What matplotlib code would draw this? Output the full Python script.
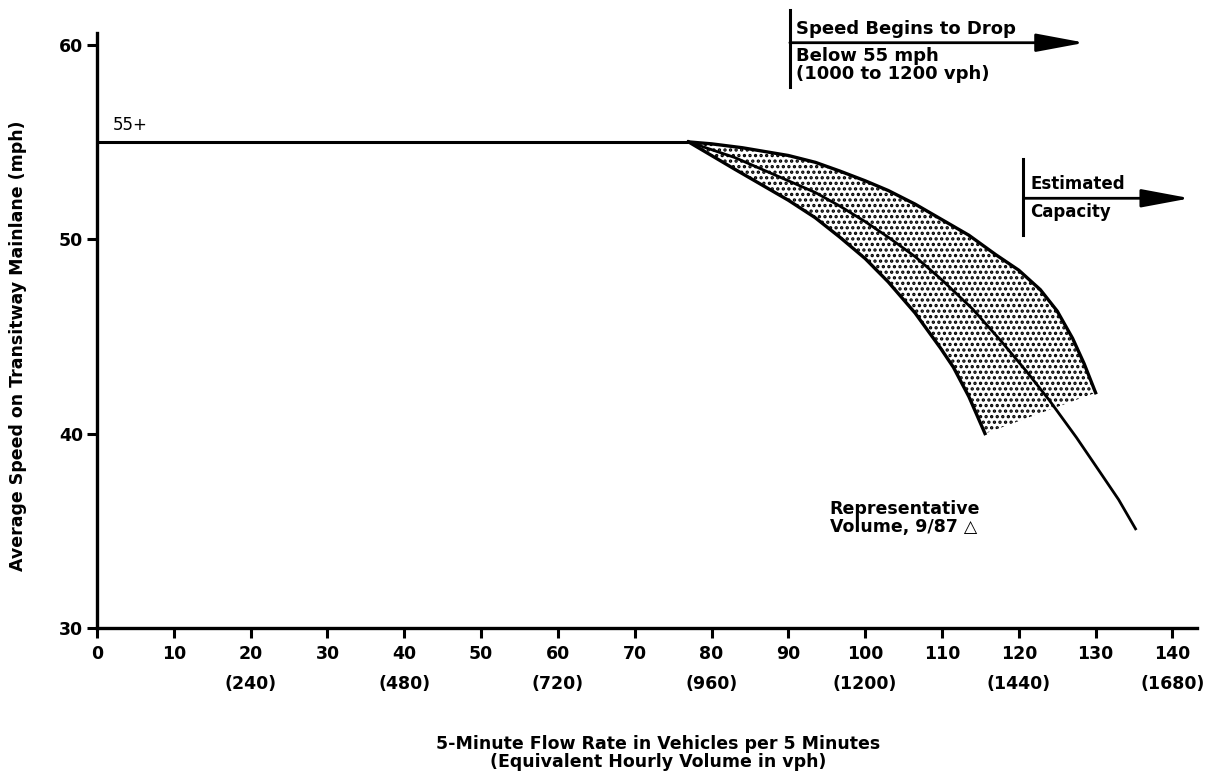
import numpy as np
import matplotlib
matplotlib.use('Agg')
import matplotlib.pyplot as plt

#values
flat_x = [0, 77]
flat_y = [55, 55]
upper_x = [77, 80, 84, 87, 90, 93.5, 96.7, 100, 103, 106.5, 110, 113.5, 117, 120,
           122.8, 125, 127, 128.5, 130]
upper_y = [55, 54.9, 54.7, 54.5, 54.3, 53.95, 53.5, 53.0, 52.5, 51.8, 51.0, 50.2,
           49.2, 48.4, 47.4, 46.3, 44.9, 43.6, 42.1]
mid_x = [77, 80, 83, 86.5, 90, 93.5, 96.7, 100, 103, 106.5, 110, 114, 117.6, 121,
         124, 127.5, 130.6, 133, 135.2]
mid_y = [55, 54.6, 54.2, 53.6, 53.0, 52.4, 51.7, 50.9, 50.1, 49.1, 47.9, 46.4, 44.8,
         43.2, 41.7, 39.8, 38.0, 36.6, 35.1]
lower_x = [77, 80, 83, 86.5, 90, 93.5, 96.7, 100, 103, 106.5, 109.8, 111.5, 113.5, 115.6]
lower_y = [55, 54.3, 53.6, 52.8, 52.0, 51.1, 50.1, 49.0, 47.8, 46.2, 44.4, 43.4, 41.9, 40.0]

xticks = [0, 10, 20, 30, 40, 50, 60, 70, 80, 90, 100, 110, 120, 130, 140]
hourly = {20: '(240)', 40: '(480)', 60: '(720)', 80: '(960)', 100: '(1200)',
          120: '(1440)', 140: '(1680)'}
yticks = [30, 40, 50, 60]

plt.rcParams['hatch.linewidth'] = 1.6
fig = plt.figure(figsize=(12.09, 7.78), dpi=100)
ax = fig.add_axes([97/1209, 150/778, 1100/1209, 595/778])
ax.set_xlim(0, 143.2)
ax.set_ylim(30, 60.6)

#shaded band between upper and lower curves
band_x = upper_x + lower_x[::-1]
band_y = upper_y + lower_y[::-1]
ax.fill(band_x, band_y, facecolor='white', edgecolor='black', hatch='...', linewidth=0)

ax.plot(flat_x, flat_y, color='black', lw=2.2, solid_capstyle='butt')
ax.plot(upper_x, upper_y, color='black', lw=2.4, solid_joinstyle='round')
ax.plot(mid_x, mid_y, color='black', lw=2.0, solid_joinstyle='round')
ax.plot(lower_x, lower_y, color='black', lw=2.4, solid_joinstyle='round')

for s in ['top', 'right']:
    ax.spines[s].set_visible(False)
for s in ['left', 'bottom']:
    ax.spines[s].set_linewidth(2.4)

ax.set_yticks(yticks)
ax.set_yticklabels([str(v) for v in yticks], fontsize=12.5, fontweight='bold')
labels = []
for v in xticks:
    if v in hourly:
        labels.append(str(v) + '\n' + hourly[v])
    else:
        labels.append(str(v) + '\n')
ax.set_xticks(xticks)
ax.set_xticklabels(labels, fontsize=12.5, fontweight='bold', linespacing=1.9, va='top')
ax.tick_params(axis='both', direction='out', length=7, width=2.2, pad=5)
ax.tick_params(axis='y', pad=3)

ax.set_ylabel('Average Speed on Transitway Mainlane (mph)', fontsize=12.5,
              fontweight='bold')
ax.yaxis.set_label_coords(-0.0636, 0.475)
fig.text(658/1209, 1 - 753/778, '5-Minute Flow Rate in Vehicles per 5 Minutes\n(Equivalent Hourly Volume in vph)',
         ha='center', va='center', fontsize=12.5, fontweight='bold', linespacing=1.0)

ax.text(2, 55.4, '55+', fontsize=12, va='bottom', ha='left')

#speed drop annotation
aprops = dict(arrowstyle='-|>,head_length=1.5,head_width=0.28', color='black',
              lw=2, mutation_scale=20, shrinkA=0, shrinkB=0)
ax.plot([90.2, 90.2], [57.8, 61.8], color='black', lw=2.2, clip_on=False)
ax.annotate('', xy=(128.6, 60.1), xytext=(90.2, 60.1), arrowprops=aprops,
            annotation_clip=False)
ax.text(91, 60.35, 'Speed Begins to Drop', fontsize=13, fontweight='bold',
        va='bottom', ha='left')
ax.text(91, 59.9, 'Below 55 mph\n(1000 to 1200 vph)', fontsize=13,
        fontweight='bold', va='top', ha='left', linespacing=1.0)

#capacity annotation
ax.plot([120.6, 120.6], [50.2, 54.1], color='black', lw=2.2, clip_on=False)
ax.annotate('', xy=(142.3, 52.1), xytext=(120.6, 52.1), arrowprops=aprops,
            annotation_clip=False)
ax.text(121.5, 52.35, 'Estimated', fontsize=12, fontweight='bold', va='bottom', ha='left')
ax.text(121.5, 51.85, 'Capacity', fontsize=12, fontweight='bold', va='top', ha='left')

ax.text(95.4, 36.6, 'Representative\nVolume, 9/87 \u25b3', fontsize=12.5,
        fontweight='bold', va='top', ha='left', linespacing=1.0)

fig.savefig('out.png', dpi=100)
